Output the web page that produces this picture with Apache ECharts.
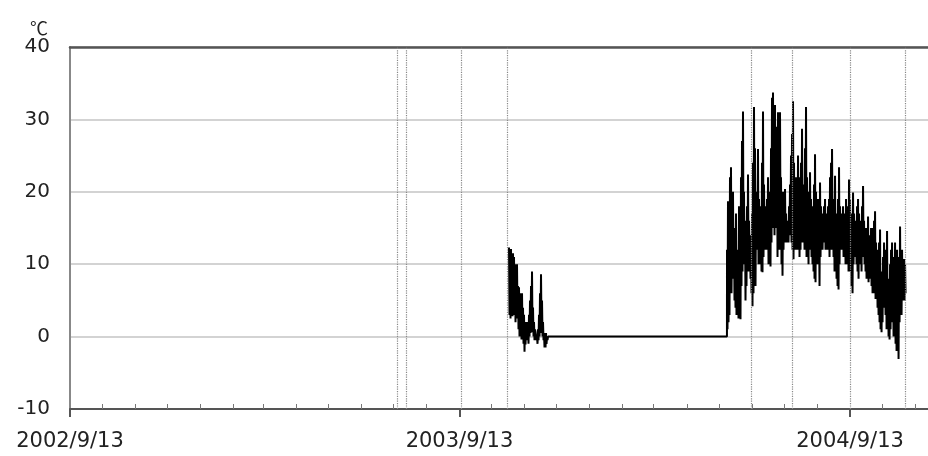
<!DOCTYPE html>
<html>
<head>
<meta charset="utf-8">
<script src="https://cdn.jsdelivr.net/npm/echarts@6/dist/echarts.min.js"></script>
<style>html,body{margin:0;padding:0;background:#fff}#c{width:928px;height:456px}</style>
</head>
<body>
<div id="c"></div>
<script>
// ---- data ----
const axisStart = '2002-09-13T00:00:00';
const axisEnd = '2004-11-25T02:00:00';
const yearTicks = ['2002-09-13T00:00:00', '2003-09-13T00:00:00', '2004-09-13T00:00:00'];
const monthTicks = ['2002-10-13','2002-11-13','2002-12-13','2003-01-13','2003-02-13','2003-03-13','2003-04-13','2003-05-13','2003-06-13','2003-07-13','2003-08-13',
  '2003-10-13','2003-11-13','2003-12-13','2004-01-13','2004-02-13','2004-03-13','2004-04-13','2004-05-13','2004-06-13','2004-07-13','2004-08-13',
  '2004-10-13','2004-11-13'];
const markerDates = ['2003-07-17T00:00:00','2003-07-25T00:00:00','2003-09-15T00:00:00','2003-10-28T00:00:00','2004-06-12T00:00:00','2004-07-21T00:00:00','2004-09-13T00:00:00','2004-11-04T00:00:00'];

// sampled as (max, min) pairs, one pair per step
const stepHours = 22.5;
const autumnStart = '2003-10-29T10:00:00';
const autumnValues = [
 12.3,3, 11,2.5, 12.1,3.5, 10,2.8, 11.5,3, 11,4, 10,2, 9.7,2.5, 10,3, 7,1,
 6.8,0, 6,1, 5,-0.4, 6,0.5, 4,-1, 3,-2.1, 2,-1.1, 1,-0.5, 2,0, 1.5,-1,
 3,0, 5,0.5, 7,1, 9,0.6, 4,0, 2,-0.5, 1,0.6, 0.5,-0.5, 0,-1, 1,-0.5,
 3,0, 6,0.5, 8.6,1, 5,0, 2,-0.5, 0.5,-1.5, 0,-1.5, 0.5,-1, 0,-0.5, 0,0
];
const flatDates = ['2003-12-05T00:00:00', '2004-05-20T16:00:00'];
const flatValues = [0, 0];
const summerStart = '2004-05-20T17:00:00';
const summerValues = [
 12,1, 18.7,2, 9,3, 22,8, 23.4,6, 14,8, 20,8, 15,5, 12,4, 17,3,
 12,4, 10,2.5, 18,5, 14,2.4, 22,7, 27,9, 31.1,12, 20,10, 16,5, 14,7,
 18,9, 22.4,11, 16,9, 14,8, 13,6, 17,4.2, 24,6, 31.7,10, 26,7, 18,12,
 20,13, 25.9,10, 19,12, 16,10, 18,9, 24,8.9, 31.1,11, 21,14, 18,12, 17,13,
 19,12, 22,10, 20,11, 17,9.7, 26,13, 33,15, 33.7,16, 30,14, 32,17, 29,15,
 27,11, 31,14, 24,12, 31,15, 22,10, 18,8.4, 20,12, 19,13, 20.4,14, 17,13,
 16,14, 14.8,13, 18,14, 21,15, 25,13, 28,12, 32.5,10.7, 24,13, 20,12, 22,14,
 19,12, 25,13, 22,11, 18,12, 24,13, 28.7,15, 21,13, 19,12, 26,14, 31.7,11,
 22,12, 18,10, 20,13, 22.7,12, 19,11, 16,10, 18,9, 21,8, 25.2,7.5, 20,10,
 17,12, 19,10, 16,7, 21.3,11, 18,13, 17,12, 16,13, 18,14, 19,12, 17,13,
 16,12, 18,13, 19,11, 22,13, 24,12, 25.9,14, 19,11, 18,9, 22.2,10, 17,8,
 16,7, 19,6.5, 23.4,10, 18,12, 17,13, 16,12, 18,11, 15,12, 17,10, 19,11,
 16,10, 18,9, 21.7,11, 19,9, 17,7, 16,6, 19.9,10, 17,12, 15,11, 16,10,
 18,9, 19,8, 17,11, 15,10, 16,9, 18,11, 20.8,12, 16,10, 14,9, 15,8,
 13,8, 16.6,7.5, 14,9, 13,8, 15,7, 14,6, 15,7, 16,6, 17.3,5.2, 13,7,
 12,4, 11,3, 13,2, 14.8,1, 9,0.6, 8,2, 11,4, 13,5, 10,3, 12,1,
 14.6,2, 8,0, 7,-0.4, 10,1, 12,3, 13,2, 9,0, 11,1, 13,-1, 9,-2,
 12,0, 8,-3.1, 11,2, 15.2,4, 9,3, 12,5, 8,6, 10.7,5, 10,6
];

// ---- build ----
function ts(s) { return new Date(s.length === 10 ? s + 'T00:00:00' : s).getTime(); }
function pairs(start, vals) {
  const t0 = ts(start), step = stepHours * 3600000, out = [];
  vals.forEach(function (v, i) { out.push([t0 + Math.floor(i / 2) * step + (i % 2) * step / 2, v]); });
  return out;
}
const lineData = [].concat(
  pairs(autumnStart, autumnValues),
  flatDates.map(function (d, i) { return [ts(d), flatValues[i]]; }),
  pairs(summerStart, summerValues)
);
function fmt(v) { const d = new Date(v); return d.getFullYear() + '/' + (d.getMonth() + 1) + '/' + d.getDate(); }

const chart = echarts.init(document.getElementById('c'));
const xMin = ts(axisStart), xMax = ts(axisEnd);
chart.setOption({
  animation: false,
  backgroundColor: '#fff',
  grid: { left: 70, right: 0, top: 47, bottom: 47 },
  xAxis: [
    {
      type: 'value', min: xMin, max: xMax, scale: true,
      axisLine: { show: true, onZero: false, lineStyle: { color: '#555', width: 2 } },
      axisTick: { show: true, inside: false, length: 8, customValues: yearTicks.map(ts), lineStyle: { color: '#555', width: 2 } },
      axisLabel: { show: true, customValues: yearTicks.map(ts), formatter: fmt, margin: 22,
        fontFamily: 'DejaVu Sans', fontSize: 21, color: '#222', showMinLabel: true, showMaxLabel: true },
      splitLine: { show: false }
    },
    {
      type: 'value', min: xMin, max: xMax, scale: true, position: 'bottom',
      axisLine: { show: false, onZero: false },
      axisTick: { show: true, inside: true, length: 5, customValues: monthTicks.map(ts), lineStyle: { color: '#777', width: 1 } },
      axisLabel: { show: false },
      splitLine: { show: false }
    },
    {
      type: 'value', min: xMin, max: xMax, scale: true, position: 'top',
      axisLine: { show: true, onZero: false, lineStyle: { color: '#555', width: 2.5 } },
      axisTick: { show: false }, axisLabel: { show: false }, splitLine: { show: false }
    }
  ],
  yAxis: {
    type: 'value', min: -10, max: 40, interval: 10,
    name: '℃', nameLocation: 'end', nameGap: 6,
    nameTextStyle: { fontFamily: 'Noto Sans CJK JP', fontSize: 18, color: '#222', align: 'right', padding: [0, 22, 0, 0] },
    axisLine: { show: true, lineStyle: { color: '#888', width: 2 } },
    axisTick: { show: false },
    axisLabel: { margin: 20, fontFamily: 'DejaVu Sans', fontSize: 20, color: '#222' },
    splitLine: { show: true, lineStyle: { color: '#c4c4c4', width: 1.5 } }
  },
  series: [{
    type: 'line',
    data: lineData,
    showSymbol: false,
    symbol: 'none',
    lineStyle: { color: '#000', width: 2 },
    markLine: {
      silent: true, symbol: 'none', animation: false,
      label: { show: false },
      lineStyle: { type: 'dotted', color: '#888', width: 1.2 },
      data: markerDates.map(function (d) { return { xAxis: ts(d) }; })
    }
  }]
});
</script>
</body>
</html>
